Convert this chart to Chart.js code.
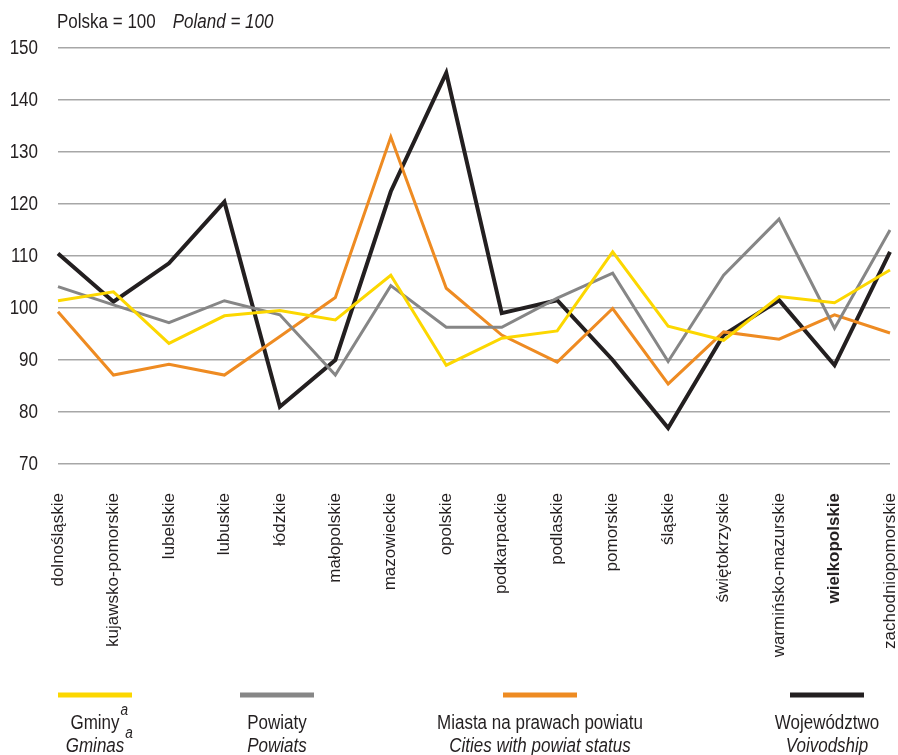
<!DOCTYPE html>
<html lang="pl">
<head>
    <meta charset="utf-8">
    <title>Polska = 100</title>
    <script src="https://cdn.jsdelivr.net/npm/chart.js@4"></script>
    <style>
        body { margin: 0; background: #fff; }
        #wrap { position: relative; width: 898px; height: 755px; }
    </style>
</head>
<body>
<div id="wrap"><canvas id="myChart" width="898" height="755"></canvas></div>

<script>
    // regions (voivodships)
    var regions = ['dolnośląskie', 'kujawsko-pomorskie', 'lubelskie', 'lubuskie', 'łódzkie',
        'małopolskie', 'mazowieckie', 'opolskie', 'podkarpackie', 'podlaskie', 'pomorskie',
        'śląskie', 'świętokrzyskie', 'warmińsko-mazurskie', 'wielkopolskie', 'zachodniopomorskie'];

    // values, Polska = 100
    var gminy = [101.4, 103.1, 93.2, 98.5, 99.5, 97.7, 106.3, 89.0, 94.2, 95.6, 110.8, 96.5, 93.8, 102.2, 101.0, 107.3];
    var powiaty = [104.1, 100.6, 97.2, 101.4, 98.7, 87.1, 104.3, 96.3, 96.3, 101.9, 106.7, 89.7, 106.3, 117.1, 96.1, 115.0];
    var miasta = [99.3, 87.1, 89.2, 87.1, 94.5, 102.0, 132.9, 103.8, 94.8, 89.6, 99.9, 85.4, 95.4, 94.0, 98.7, 95.2];
    var wojewodztwo = [110.5, 101.2, 108.6, 120.4, 81.0, 90.0, 122.4, 145.2, 99.0, 101.5, 90.0, 76.9, 94.8, 101.5, 89.0, 110.8];

    var yTicks = [70, 80, 90, 100, 110, 120, 130, 140, 150];
    var boldRegion = 'wielkopolskie';

    var legendPl = ['Gminy', 'Powiaty', 'Miasta na prawach powiatu', 'Województwo'];
    var legendEn = ['Gminas', 'Powiats', 'Cities with powiat status', 'Voivodship'];
    var legendSup = ['a', '', '', ''];

    var family = "'Liberation Sans', Arial, sans-serif";
    var squeeze = 0.85; // no narrow font installed, so squash the regular one

    // text drawn horizontally condensed; returns drawn width
    function narrowText(c, text, x, y, align, font) {
        c.save();
        c.font = font;
        var w = c.measureText(text).width * squeeze;
        var x0 = align === 'center' ? x - w / 2 : align === 'right' ? x - w : x;
        c.translate(x0, y);
        c.scale(squeeze, 1);
        c.textAlign = 'left';
        c.fillText(text, 0, 0);
        c.restore();
        return w;
    }

    // title, y tick labels and two-line legend
    var extras = {
        id: 'extras',
        afterDraw: function (chart) {
            var c = chart.ctx;
            c.save();
            c.fillStyle = '#231f20';
            c.textBaseline = 'middle';

            var w = narrowText(c, 'Polska = 100', 57, 22, 'left', '20px ' + family);
            narrowText(c, 'Poland = 100', 57 + w + 17, 22, 'left', 'italic 20px ' + family);

            var ys = chart.scales.y;
            yTicks.forEach(function (v) {
                narrowText(c, String(v), 38, ys.getPixelForValue(v), 'right', '20px ' + family);
            });

            var centres = [95, 277, 540, 827];
            chart.data.datasets.forEach(function (ds, i) {
                var cx = centres[i];
                c.strokeStyle = ds.borderColor;
                c.lineWidth = 5;
                c.beginPath();
                c.moveTo(cx - 37, 695);
                c.lineTo(cx + 37, 695);
                c.stroke();

                var w1 = narrowText(c, legendPl[i], cx, 723, 'center', '20px ' + family);
                var w2 = narrowText(c, legendEn[i], cx, 746, 'center', 'italic 20px ' + family);
                if (legendSup[i]) {
                    narrowText(c, legendSup[i], cx + w1 / 2 + 1, 711, 'left', 'italic 16px ' + family);
                    narrowText(c, legendSup[i], cx + w2 / 2 + 1, 734, 'left', 'italic 16px ' + family);
                }
            });
            c.restore();
        }
    };

    function line(label, data, color, width) {
        return {
            label: label,
            data: data,
            borderColor: color,
            backgroundColor: color,
            borderWidth: width,
            pointRadius: 0,
            pointHoverRadius: 0,
            tension: 0,
            fill: false
        };
    }

    var ctx = document.getElementById('myChart').getContext('2d');
    var chart = new Chart(ctx, {
        type: 'line',
        data: {
            labels: regions,
            datasets: [
                line(legendPl[0], gminy, '#fcd700', 3),
                line(legendPl[1], powiaty, '#868686', 3),
                line(legendPl[2], miasta, '#ee8b22', 3),
                line(legendPl[3], wojewodztwo, '#231f20', 4)
            ]
        },
        options: {
            responsive: false,
            animation: false,
            layout: { padding: { top: 48, right: 8, bottom: 91, left: 0 } },
            plugins: {
                legend: { display: false },
                tooltip: { enabled: false }
            },
            scales: {
                x: {
                    offset: false,
                    grid: { display: false },
                    border: { display: false },
                    afterFit: function (s) {
                        s.height = 200;
                        s.paddingLeft = 0;
                        s.paddingRight = 0;
                    },
                    ticks: {
                        autoSkip: false,
                        minRotation: 90,
                        maxRotation: 90,
                        padding: 21,
                        color: '#231f20',
                        font: function (c) {
                            var bold = c.tick && c.tick.label === boldRegion;
                            return { family: family, size: 17, weight: bold ? 'bold' : 'normal' };
                        }
                    }
                },
                y: {
                    min: 70,
                    max: 150,
                    afterFit: function (s) { s.width = 58; },
                    afterBuildTicks: function (s) {
                        s.ticks = yTicks.map(function (v) { return { value: v }; });
                    },
                    grid: { color: '#a7a7a7', lineWidth: 1.5, drawTicks: false },
                    border: { display: false },
                    ticks: {
                        padding: 20,
                        color: 'rgba(0,0,0,0)',
                        font: { family: family, size: 20 }
                    }
                }
            }
        },
        plugins: [extras]
    });
</script>
</body>
</html>
